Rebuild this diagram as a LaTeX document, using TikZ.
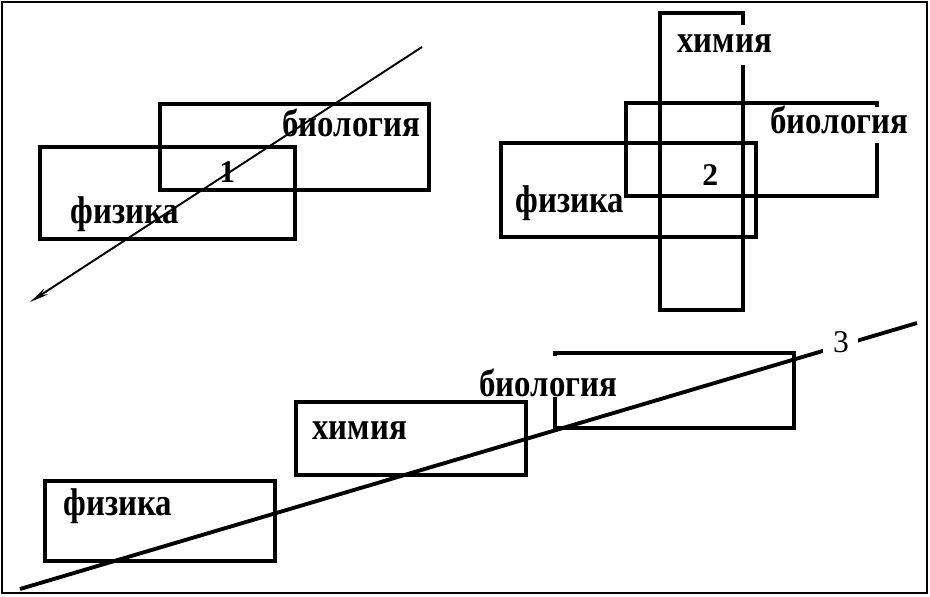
\documentclass[tikz,border=0pt]{standalone}
\usepackage{fontspec}
\setmainfont{Liberation Serif}
\newfontfamily\lblfont{Liberation Serif}[FakeStretch=0.85]
\usepackage{tikz}
\usetikzlibrary{arrows.meta,positioning,fit}

\begin{document}
\begin{tikzpicture}[x=0.02cm,y=-0.02cm,
  box/.style={draw,line width=2.2pt,inner sep=0pt},
  lbl/.style={anchor=base west,inner sep=0pt,font=\lblfont\bfseries\fontsize{22}{22}\selectfont},
  num/.style={anchor=base west,inner sep=0pt,font=\bfseries\fontsize{18}{18}\selectfont},
  gap/.style={fill=white}]
\useasboundingbox (0,0) rectangle (930,596);
\draw[line width=1.2pt] (2,2) rectangle (927,593);

% 1: two sets
\node[box,fit={(40,147) (295,239)}] (fiz1) {};
\node[box,fit={(160,104) (429,190)}] (bio1) {};
\node[lbl] (lfiz1) at (70,223) {физика};
\node[lbl] (lbio1) at (282,136) {биология};
\node[num] (n1) at (219,182) {1};
\coordinate (a1) at (422,47);
\coordinate (b1) at (30,302);
\draw[line width=1.1pt,-{Stealth[length=11pt,width=4pt]}] (a1) -- (b1);

% 2: three sets
\node[box,fit={(660,13) (743,310)}] (him2) {};
\node[box,fit={(626,103) (877,196)}] (bio2) {};
\node[box,fit={(501,143) (756,237)}] (fiz2) {};
\node[lbl,gap,text height=15.4pt,text depth=7.4pt] (lhim2) at (677,52) {химия};
\node[lbl,gap,text height=14.8pt,text depth=5.7pt] (lbio2) at (770,133) {биология};
\node[lbl] (lfiz2) at (515,212) {физика};
\node[num] (n2) at (702,185) {2};

% 3: chain
\node[box,fit={(45,481) (275,561)}] (fiz3) {};
\node[box,fit={(296,402) (526,475)}] (him3) {};
\node[box,fit={(555,353) (794,428)}] (bio3) {};
\node[lbl] (lfiz3) at (63,515) {физика};
\node[lbl] (lhim3) at (312,439) {химия};
\node[lbl,gap,text height=22.5pt,text depth=0.8pt] (lbio3) at (479,396) {биология};
\coordinate (a3) at (20,589);
\coordinate (b3) at (917,323);
\draw[line width=2.2pt] (a3) -- (b3);
\node[gap,anchor=base west,inner xsep=5.5pt,inner ysep=3pt,font=\fontsize{18}{18}\selectfont] (n3) at (823,352) {3};
\end{tikzpicture}
\end{document}
